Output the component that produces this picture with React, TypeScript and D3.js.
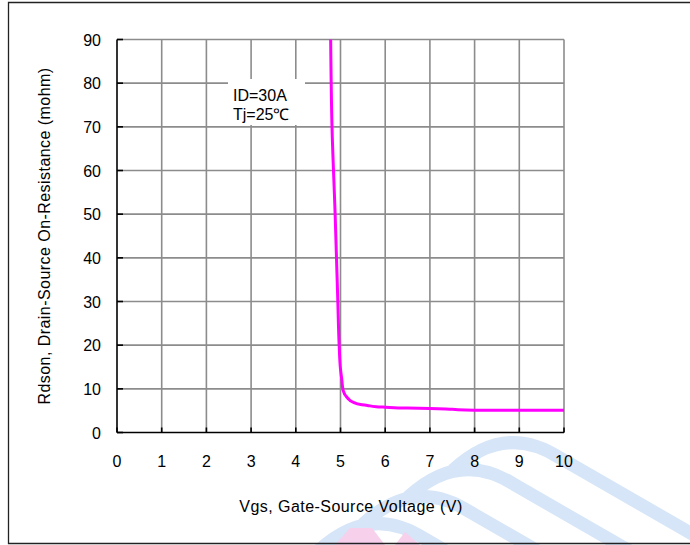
import React from "react";
import * as d3 from "d3";

const vgs = [4.78, 4.81, 4.88, 4.94, 4.97, 5.0, 5.03, 5.06, 5.15, 5.29, 5.45, 5.6, 5.8, 6.0, 6.5, 7.0, 7.5, 8.0, 9.0, 10.0];
const rdson = [90, 70, 50, 30, 20, 14.5, 12, 9.6, 8.0, 6.9, 6.4, 6.2, 5.9, 5.8, 5.6, 5.5, 5.3, 5.1, 5.1, 5.1];
const xTicks = [0, 1, 2, 3, 4, 5, 6, 7, 8, 9, 10];
const yTicks = [0, 10, 20, 30, 40, 50, 60, 70, 80, 90];
const annotation = ["ID=30A", "Tj=25℃"];
const xTitle = "Vgs, Gate-Source Voltage (V)";
const yTitle = "Rdson, Drain-Source On-Resistance (mohm)";
const bandOffsets = [0, 1, 2, 3];

export default function App() {
  const W = 690, H = 545;
  const x = d3.scaleLinear().domain([0, 10]).range([117, 564]);
  const y = d3.scaleLinear().domain([0, 90]).range([432.5, 39.5]);
  const line = d3.line<number>().x((d, i) => x(vgs[i])).y((d) => y(d)).curve(d3.curveMonotoneY);
  const font = "'Liberation Sans', Arial, sans-serif";
  return (
    <svg width={W} height={H} style={{ position: "absolute", left: 0, top: 0 }}>
      <rect x={0} y={0} width={W} height={H} fill="#fff" />
      {/* watermark */}
      <g fill="none" stroke="#d6e5f7" strokeWidth={13}>
        {bandOffsets.map((k) => {
          const dx = -45 * k, dy = 27 * k;
          return (
            <path key={"b" + k}
              d={`M ${453 + dx} ${470 + dy} Q ${505 + dx} ${422 + dy} ${560 + dx} ${458 + dy} L ${720 + dx} ${550 + dy}`} />
          );
        })}
      </g>
      <path d="M 335 545 L 350 528 L 372 528 L 385 545 Z M 395 545 L 405 532 L 420 545 Z" fill="#f7d0ec" />
      <path d="M 690 2.5 H 8.5 V 543.5 H 690" fill="none" stroke="#222" strokeWidth={1.3} />
      {/* grid */}
      <g stroke="#8c8c8c" strokeWidth={1.6}>
        {xTicks.slice(1).map((t) => (
          <line key={"gx" + t} x1={x(t)} x2={x(t)} y1={y(90)} y2={y(0)} />
        ))}
        {yTicks.slice(1).map((t) => (
          <line key={"gy" + t} x1={x(0)} x2={x(10)} y1={y(t)} y2={y(t)} />
        ))}
      </g>
      {/* annotation box */}
      <rect x={228} y={79} width={77} height={46} fill="#fff" />
      <g fontFamily={font} fontSize={16} fill="#000">
        <text x={233} y={101}>{annotation[0]}</text>
        <text x={233} y={120}>{annotation[1]}</text>
      </g>
      {/* axes */}
      <g stroke="#000" strokeWidth={1.6}>
        <line x1={x(0)} x2={x(0)} y1={y(90)} y2={y(0)} />
        <line x1={x(0)} x2={x(10)} y1={y(0)} y2={y(0)} />
        {yTicks.map((t) => (
          <line key={"ty" + t} x1={x(0)} x2={x(0) + 6} y1={y(t)} y2={y(t)} />
        ))}
        {xTicks.map((t) => (
          <line key={"tx" + t} x1={x(t)} x2={x(t)} y1={y(0)} y2={y(0) - 5} />
        ))}
      </g>
      <path d={line(rdson) || ""} fill="none" stroke="#ff00ff" strokeWidth={3} strokeLinejoin="round" />
      <g fontFamily={font} fontSize={16} fill="#000">
        {yTicks.map((t) => (
          <text key={"ly" + t} x={101} y={y(t) + 6} textAnchor="end">{t}</text>
        ))}
        {xTicks.map((t) => (
          <text key={"lx" + t} x={x(t)} y={467} textAnchor="middle">{t}</text>
        ))}
        <text x={351} y={512} textAnchor="middle" letterSpacing={0.45}>{xTitle}</text>
        <text transform="translate(50,236) rotate(-90)" textAnchor="middle" letterSpacing={0.45}>{yTitle}</text>
      </g>
    </svg>
  );
}
